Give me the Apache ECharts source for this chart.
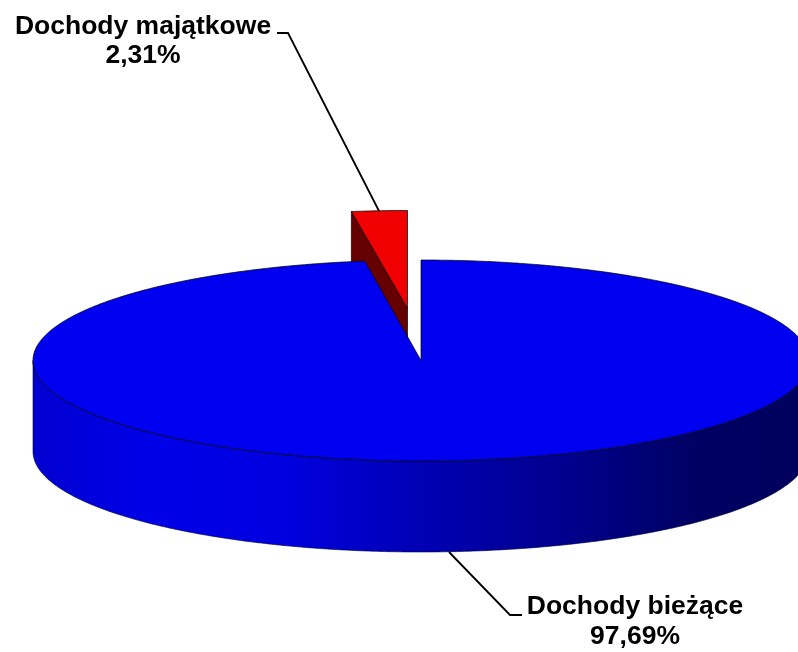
<!DOCTYPE html>
<html><head><meta charset="utf-8">
<style>html,body{margin:0;padding:0;background:#fff}#c{width:798px;height:652px}</style>
<script src="https://cdn.jsdelivr.net/npm/echarts@6/dist/echarts.min.js"></script>
</head><body><div id="c"></div>
<script>
const categories = ['Dochody bieżące', 'Dochody majątkowe'];
const values = [97.69, 2.31];
const valueLabels = ['97,69%', '2,31%'];
const sliceColors = ['#0000f0', '#f00000'];

const CX = 421, CY = 360.5, RX = 388, RY = 100.5, RED_RY = 98, DEPTH = 91;
const EXPLODE_RED = [-13.5, -52];
const TAU = Math.PI * 2;
const total = values.reduce((a, b) => a + b, 0);
const pt = (t, o, ry) => [CX + o[0] + RX * Math.sin(t), CY + o[1] - ry * Math.cos(t)];
function arc(a, b, o, ry) {
  const n = Math.max(2, Math.ceil(Math.abs(b - a) / 0.01)), r = [];
  for (let i = 0; i <= n; i++) r.push(pt(a + (b - a) * i / n, o, ry));
  return r;
}
const sideGrad = {
  type: 'linear', x: 0, y: 0, x2: 1, y2: 0,
  colorStops: [
    { offset: 0, color: '#0000d0' }, { offset: 0.15, color: '#0000e8' },
    { offset: 0.32, color: '#0000e0' }, { offset: 0.5, color: '#0000b4' },
    { offset: 0.7, color: '#00008a' }, { offset: 0.85, color: '#000064' },
    { offset: 1, color: '#00005c' }
  ]
};
const edge = { stroke: '#000', lineWidth: 0.7 };

function renderItem(params, api) {
  const cat = api.value(0), kids = [];
  if (cat === 1) {
    const a = values[0] / total * TAU, b = TAU, o = EXPLODE_RED;
    const apex = [CX + o[0], CY + o[1]];
    const left = pt(a, o, RED_RY);
    kids.push({ type: 'polygon', shape: { points: [apex, left, [left[0], left[1] + DEPTH], [apex[0], apex[1] + DEPTH]] },
      style: { fill: '#660000', ...edge } });
    kids.push({ type: 'polygon', shape: { points: [apex].concat(arc(a, b, o, RED_RY)) },
      style: { fill: sliceColors[1], ...edge } });
  } else {
    const o = [0, 0], apex = [CX, CY];
    const sideArc = arc(Math.PI * 0.5, Math.PI * 1.5, o, RY);
    const lower = sideArc.map(p => [p[0], p[1] + DEPTH]).reverse();
    kids.push({ type: 'polygon', shape: { points: sideArc.concat(lower) },
      style: { fill: sideGrad, stroke: '#000033', lineWidth: 0.6 } });
    kids.push({ type: 'polygon', shape: { points: [apex].concat(arc(0, api.value(1) / total * TAU, o, RY)) },
      style: { fill: sliceColors[0], ...edge } });
  }
  return { type: 'group', children: kids };
}

const txt = { fontFamily: 'Liberation Sans', fontWeight: 'bold', fontSize: 26.5, fill: '#000', align: 'center', verticalAlign: 'middle' };
const chart = echarts.init(document.getElementById('c'), null, { renderer: 'canvas' });
chart.setOption({
  animation: false,
  backgroundColor: '#fff',
  series: [{
    type: 'custom', coordinateSystem: 'none', silent: true,
    renderItem,
    // red slice first so the blue disc overlaps its cut face
    data: [[1, values[1]], [0, values[0]]]
  }],
  graphic: [
    { type: 'polyline', shape: { points: [[277, 33], [288, 33], [379, 211]] }, style: { stroke: '#000', lineWidth: 1.8, fill: null }, z: 10 },
    { type: 'polyline', shape: { points: [[449, 552], [510, 615], [522, 615]] }, style: { stroke: '#000', lineWidth: 1.8, fill: null }, z: 10 },
    { type: 'text', x: 143, y: 27, style: { ...txt, text: categories[1] }, z: 10 },
    { type: 'text', x: 143, y: 56, style: { ...txt, text: valueLabels[1] }, z: 10 },
    { type: 'text', x: 635, y: 607, style: { ...txt, text: categories[0] }, z: 10 },
    { type: 'text', x: 635, y: 637, style: { ...txt, text: valueLabels[0] }, z: 10 }
  ]
});
</script></body></html>
